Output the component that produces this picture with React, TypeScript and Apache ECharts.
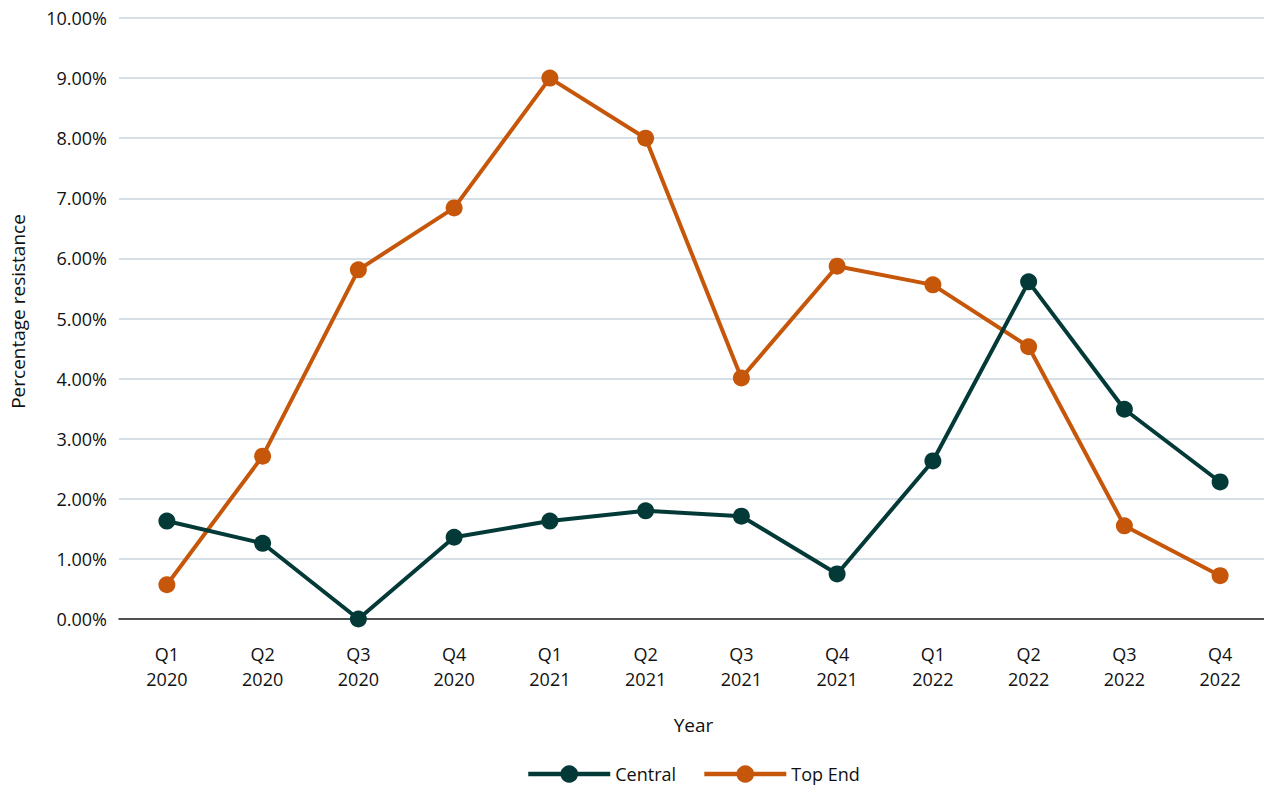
import React, { useEffect, useRef } from "react";
import * as echarts from "echarts";

const categories = ["Q1\n2020", "Q2\n2020", "Q3\n2020", "Q4\n2020", "Q1\n2021", "Q2\n2021", "Q3\n2021", "Q4\n2021", "Q1\n2022", "Q2\n2022", "Q3\n2022", "Q4\n2022"];
const centralValues = [1.63, 1.26, 0.0, 1.36, 1.63, 1.8, 1.71, 0.75, 2.63, 5.61, 3.49, 2.28];
const topEndValues = [0.57, 2.71, 5.81, 6.84, 9.0, 8.0, 4.01, 5.87, 5.56, 4.53, 1.55, 0.72];

const FONT = "'Open Sans', 'Noto Sans', sans-serif";

export default function App() {
  const ref = useRef<HTMLDivElement>(null);
  useEffect(() => {
    if (!ref.current) return;
    const chart = echarts.init(ref.current, undefined, { renderer: "svg" });
    chart.setOption({
      animation: false,
      textStyle: { fontFamily: FONT },
      grid: { left: 112, right: 0, top: 18, bottom: 170, containLabel: false },
      legend: {
        bottom: 1,
        left: 521,
        itemWidth: 82,
        itemHeight: 22,
        itemGap: 26,
        lineStyle: { width: 4.5 },
        textStyle: { fontSize: 18, color: "#111", fontFamily: FONT },
        data: ["Central", "Top End"],
      },
      xAxis: {
        type: "category",
        data: categories,
        boundaryGap: true,
        name: "Year",
        nameLocation: "middle",
        nameGap: 96,
        nameTextStyle: { fontSize: 19, color: "#111", fontFamily: FONT },
        axisLine: { lineStyle: { color: "#222", width: 1.5 } },
        axisTick: { show: false },
        axisLabel: { fontSize: 18, color: "#111", lineHeight: 25, margin: 22, fontFamily: FONT },
      },
      yAxis: {
        type: "value",
        min: 0,
        max: 10,
        interval: 1,
        name: "Percentage resistance",
        nameLocation: "middle",
        nameGap: 92,
        nameTextStyle: { fontSize: 19, color: "#111", fontFamily: FONT, padding: [0, 0, 0, 14] },
        axisLine: { show: false },
        axisTick: { show: false },
        axisLabel: {
          fontSize: 18,
          color: "#111",
          margin: 12,
          fontFamily: FONT,
          formatter: (v: number) => v.toFixed(2) + "%",
        },
        splitLine: { lineStyle: { color: "#c9d3de", width: 1.5 } },
      },
      series: [
        {
          name: "Central",
          type: "line",
          data: centralValues,
          symbol: "circle",
          symbolSize: 17,
          lineStyle: { width: 4, color: "#033a37" },
          itemStyle: { color: "#033a37" },
          z: 3,
        },
        {
          name: "Top End",
          type: "line",
          data: topEndValues,
          symbol: "circle",
          symbolSize: 17,
          lineStyle: { width: 4, color: "#c6570a" },
          itemStyle: { color: "#c6570a" },
          z: 2,
        },
      ],
    });
    return () => chart.dispose();
  }, []);
  return (
    <div style={{ position: "absolute", left: 0, top: 0, width: 1264, height: 789, overflow: "hidden" }}>
      <div ref={ref} style={{ width: 1268, height: 789 }} />
    </div>
  );
}
